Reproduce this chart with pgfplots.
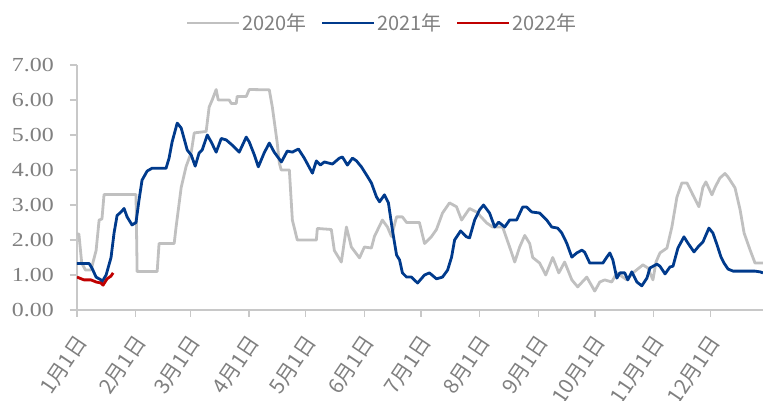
\documentclass[border=0pt]{standalone}
\usepackage{pgfplots}
\pgfplotsset{compat=1.18}
\usepackage{fontspec}
\setmainfont{Liberation Serif}
\newfontfamily\cjk{Noto Sans CJK SC}

\definecolor{c2020}{HTML}{C0C0C0}
\definecolor{c2021}{HTML}{003A8C}
\definecolor{c2022}{HTML}{C00000}
\definecolor{axisgray}{HTML}{C8C8C8}
\definecolor{labgray}{HTML}{808080}

\begin{document}
\begin{tikzpicture}
\begin{axis}[
  scale only axis,
  width=686bp, height=245bp,
  xmin=0, xmax=362.8, ymin=0, ymax=7,
  axis lines=left,
  axis line style={-, draw=axisgray, line width=1.3bp},
  tick style={draw=axisgray, line width=1.3bp},
  tick align=outside,
  major tick length=7bp,
  xtick={0,31,60,91,121,152,182,213,244,274,305,335},
  xticklabels={1月1日,2月1日,3月1日,4月1日,5月1日,6月1日,7月1日,8月1日,9月1日,10月1日,11月1日,12月1日},
  xticklabel style={xshift=7bp, yshift=-18bp, rotate=56, anchor=east, font=\cjk\fontsize{21}{23}\selectfont, text=labgray},
  ytick={0,1,2,3,4,5,6,7},
  yticklabel style={font=\fontsize{20}{24}\selectfont, text=labgray, xscale=1.2, xshift=-10bp,
    /pgf/number format/.cd, fixed, fixed zerofill, precision=2, assume math mode=true},
  clip=true,
  legend columns=3,
  legend style={at={(0.445,1.171)}, anchor=center, draw=none, fill=none,
    font=\cjk\fontsize{20}{24}\selectfont, text=labgray, inner sep=0pt,
    /tikz/every even column/.append style={column sep=12bp}},
  legend image code/.code={\draw[#1] (0bp,0bp) -- (52bp,0bp);},
  every axis plot/.append style={line width=2.8bp, line join=round},
]
\addplot[c2020] coordinates {
(0,2.17) (1,2.17) (2.5,1.34) (4.5,1.14) (7.4,1.14) (10.1,1.7) (11.7,2.57) (13.2,2.6) (14.3,3.3)
(31.2,3.3) (31.8,1.1) (42.4,1.1) (43.4,1.9) (51.4,1.9) (52.4,2.37) (55.1,3.5) (57.7,4.1)
(60.4,4.5) (62,5.06) (68.3,5.1) (69.9,5.8) (71.5,6.0) (73.6,6.3) (74.7,6.0) (80.5,6.0)
(81.6,5.9) (84.2,5.9) (84.7,6.1) (89.5,6.1) (91.1,6.3) (101.7,6.29) (103.3,5.8) (105.9,4.77)
(107,4.2) (108,4.0) (112.3,4.0) (113.9,2.57) (116.5,2.0) (126.6,2.0) (127.1,2.33) (134.5,2.3)
(136.1,1.7) (139.8,1.37) (142.5,2.37) (145.1,1.8) (149.4,1.49) (152,1.8) (155.7,1.77)
(157.3,2.1) (161.5,2.57) (164.2,2.37) (166.3,2.1) (169,2.66) (172.1,2.66) (174.3,2.5)
(181.1,2.5) (183.8,1.9) (187.5,2.1) (190.1,2.3) (193.3,2.77) (197,3.06) (200.7,2.95)
(203.4,2.57) (207.6,2.9) (211.3,2.8) (216.6,2.49) (219.8,2.37) (225.1,2.37) (228.8,1.8)
(231.5,1.37) (234.1,1.8) (236.8,2.13) (239.4,1.9) (241,1.5) (244.7,1.34) (247.9,1.0)
(251.6,1.5) (254.8,1.06) (257.9,1.37) (261.7,0.86) (264.8,0.66) (269.6,0.94) (273.8,0.54)
(276.5,0.8) (279.1,0.86) (282.8,0.8) (285.5,1.06) (290.8,0.86) (294,1.06) (299.3,1.29)
(301.9,1.2) (304.6,0.86) (306.2,1.37) (308.3,1.63) (312,1.77) (314.6,2.37) (317.3,3.23)
(319.9,3.63) (322.6,3.63) (325.7,3.29) (328.9,2.95) (331,3.5) (332.6,3.66) (335.8,3.29)
(337.4,3.5) (340,3.77) (342.7,3.9) (344.3,3.8) (348,3.49) (350.7,2.86) (352.8,2.2)
(356,1.71) (358.6,1.34) (362.8,1.34)
};
\addplot[c2021] coordinates {
(0,1.33) (6.4,1.33) (7.9,1.2) (10.1,0.94) (12.7,0.86) (13.2,0.8) (15.4,1.0) (18,1.5)
(19.6,2.2) (21.2,2.7) (23.3,2.8) (24.9,2.9) (26.5,2.66) (29.1,2.43) (31.2,2.5) (32.8,3.14)
(34.4,3.71) (37.1,3.97) (39.7,4.05) (47.1,4.05) (48.7,4.34) (50.3,4.8) (53,5.34) (55.1,5.2)
(58.3,4.57) (60.4,4.43) (62.5,4.11) (64.6,4.49) (66.2,4.57) (68.9,5.0) (71,4.8) (73.6,4.51)
(76.3,4.9) (78.9,4.86) (82.1,4.71) (85.8,4.51) (89.5,4.94) (91.1,4.8) (93.8,4.43) (95.9,4.09)
(99,4.49) (101.7,4.77) (104.3,4.51) (108.1,4.23) (111.2,4.54) (113.9,4.51) (117.1,4.6)
(120.2,4.34) (124.5,3.91) (126.6,4.26) (128.7,4.14) (130.8,4.23) (135.1,4.17) (138.8,4.34)
(140.4,4.37) (143,4.14) (145.7,4.34) (147.8,4.26) (150.4,4.09) (153.1,3.86) (155.7,3.63)
(158.4,3.23) (160,3.09) (162.6,3.29) (164.7,3.06) (166.8,2.29) (169,1.57) (170.6,1.43)
(172.1,1.06) (174.3,0.94) (176.9,0.94) (180.1,0.77) (183.8,1.0) (186.4,1.06) (190.1,0.89)
(193.3,0.94) (196,1.14) (198.1,1.51) (199.7,2.0) (202.9,2.26) (206,2.09) (207.6,2.06)
(210.3,2.57) (212.9,2.86) (215,3.0) (218.2,2.77) (220.9,2.37) (223,2.51) (226.2,2.37)
(228.8,2.57) (232.5,2.57) (235.7,2.94) (237.8,2.94) (240.5,2.8) (244.7,2.77) (248.4,2.57)
(251.1,2.37) (254.2,2.34) (256.4,2.2) (259,1.91) (261.7,1.51) (264.3,1.63) (267,1.71)
(268.5,1.65) (271.2,1.34) (278.1,1.34) (280.2,1.51) (281.8,1.63) (283.4,1.43) (285.5,0.91)
(287.1,1.06) (289.7,1.06) (291.3,0.86) (293.4,1.09) (296.1,0.8) (298.7,0.69) (301.4,0.91)
(303,1.2) (306.7,1.31) (308.3,1.25) (311,1.03) (313.6,1.23) (315.2,1.25) (317.8,1.77)
(321,2.09) (323.1,1.91) (326.3,1.66) (328.9,1.83) (331,1.94) (334.2,2.34) (336.3,2.2)
(338.5,1.86) (340.6,1.51) (342.2,1.34) (344.3,1.17) (347,1.11) (358.6,1.11) (361.2,1.09)
(362.8,1.06)
};
\addplot[c2022] coordinates {
(0,0.94) (3.7,0.86) (7.4,0.86) (10.1,0.8) (12.7,0.77) (13.8,0.71) (15.9,0.89) (18,0.97) (19.1,1.06)
};
\legend{2020年,2021年,2022年}
\end{axis}
\pgfresetboundingbox
\path[use as bounding box] ([shift={(-77bp,-91bp)}]current axis.south west) rectangle ([shift={(0bp,65bp)}]current axis.north east);
\end{tikzpicture}
\end{document}
